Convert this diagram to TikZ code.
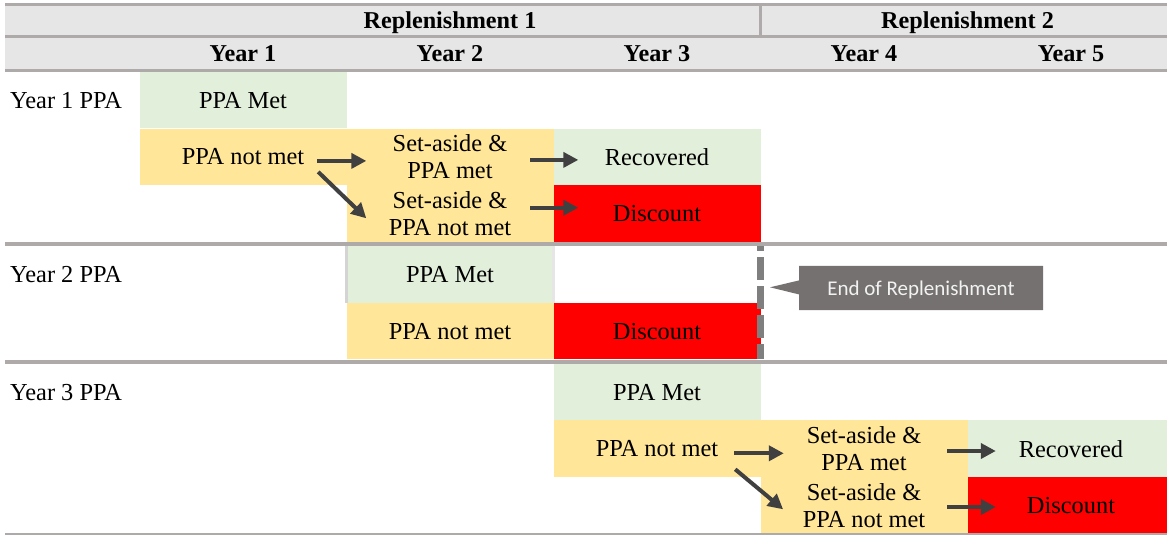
\documentclass[tikz,border=0pt]{standalone}
\usepackage{fontspec}
\setmainfont{Liberation Serif}
\setsansfont{Carlito}
\usepackage{tikz}
\usetikzlibrary{arrows.meta,shapes.callouts}
\definecolor{metgreen}{HTML}{E2EFDA}
\definecolor{notyellow}{HTML}{FFE699}
\definecolor{lossred}{HTML}{FF0000}
\definecolor{headgray}{HTML}{E7E6E6}
\definecolor{rulegray}{HTML}{AEAAAA}
\definecolor{arrowgray}{HTML}{404040}
\definecolor{dashgray}{HTML}{7F7F7F}
\definecolor{notegray}{HTML}{767171}
\tikzset{
    every node/.style={inner sep=0pt, text depth=-5.4pt,
        font=\rmfamily\fontsize{24.4}{27}\selectfont}
}
\tikzset{
    cell/.style={rectangle, minimum width=207pt, minimum height=56.7pt, align=center},
    met/.style={cell, fill=metgreen},
    notmet/.style={cell, fill=notyellow},
    lost/.style={cell, fill=lossred},
    head/.style={font=\rmfamily\fontsize{24.2}{27}\selectfont\bfseries, text depth=-5pt}
}
\tikzset{
    flow/.style={draw=arrowgray, fill=arrowgray, line width=4pt,
        -{Triangle[length=15pt,width=15pt]}}
}
\tikzset{
    rule/.style={draw=rulegray, line width=3.5pt}
}

\begin{document}
\begin{tikzpicture}[x=1pt, y=-1pt]
  \useasboundingbox (0,0) rectangle (1167,535);
  \fill[headgray] (5,5) rectangle (1167,70);

  \node (r1) [head] at (450,20.5) {Replenishment 1};
  \node (r2) [head] at (967.5,20.5) {Replenishment 2};
  \node (c1) [head] at (243,53.7) {Year 1};
  \node (c2) [head] at (450,53.7) {Year 2};
  \node (c3) [head] at (657,53.7) {Year 3};
  \node (c4) [head] at (864,53.7) {Year 4};
  \node (c5) [head] at (1071,53.7) {Year 5};

  \node (l1) [anchor=west] at (10,100) {Year 1 PPA};
  \node (m1) [met] at (243,100) {PPA Met};
  \node (n1) [notmet] at (243,156.9) {PPA not met};
  \node (s1) [notmet] at (450,156.9) {Set-aside \&\\PPA met};
  \node (t1) [notmet] at (450,213.7) {Set-aside \&\\PPA not met};
  \node (v1) [met] at (657,156.9) {Recovered};
  \node (d1) [lost] at (657,213.7) {Discount};

  \node (l2) [anchor=west] at (10,274.3) {Year 2 PPA};
  \node (m2) [met] at (450,274.3) {PPA Met};
  \node (n2) [notmet] at (450,331) {PPA not met};
  \node (d2) [lost] at (657,331) {Discount};

  \node (l3) [anchor=west] at (10,392) {Year 3 PPA};
  \node (m3) [met] at (657,392) {PPA Met};
  \node (n3) [notmet] at (657,448.7) {PPA not met};
  \node (s3) [notmet] at (864,448.7) {Set-aside \&\\PPA met};
  \node (t3) [notmet] at (864,505.3) {Set-aside \&\\PPA not met};
  \node (v3) [met] at (1071,448.7) {Recovered};
  \node (d3) [lost] at (1071,505.3) {Discount};

  \draw[headgray!80!black!60, line width=2.5pt] (m2.north west) -- (m2.south west);
  \draw[headgray, line width=2.5pt] (m2.north east) -- (m2.south east);

  \draw[rule] (5,4.7) -- (1167,4.7);
  \draw[rule] (5,36.7) -- (1167,36.7);
  \draw[rule] (5,70.7) -- (1167,70.7);
  \draw[rule] (760.5,6) -- (760.5,35);
  \draw[rule] (5,244) -- (1167,244);
  \draw[rule] (5,362) -- (1167,362);
  \draw[rule, line width=2pt] (5,533.5) -- (1167,533.5);

  \draw[flow] ([xshift=-29.5pt,yshift=-4pt]n1.east) -- ([xshift=20pt,yshift=-4pt]s1.west);
  \draw[flow] ([xshift=-28.5pt,yshift=-15pt]n1.east) -- ([xshift=20pt,yshift=-4.6pt]t1.west);
  \draw[flow] ([xshift=-23.5pt,yshift=-3pt]s1.east) -- ([xshift=25pt,yshift=-3pt]v1.west);
  \draw[flow] ([xshift=-23.5pt,yshift=6pt]t1.east) -- ([xshift=25pt,yshift=6pt]d1.west);

  \draw[flow] ([xshift=-26.5pt,yshift=-4.6pt]n3.east) -- ([xshift=23.5pt,yshift=-4.6pt]s3.west);
  \draw[flow] ([xshift=-25.5pt,yshift=-20.6pt]n3.east) -- ([xshift=22.8pt,yshift=-4pt]t3.west);
  \draw[flow] ([xshift=-20.5pt,yshift=-2.3pt]s3.east) -- ([xshift=28.5pt,yshift=-2.3pt]v3.west);
  \draw[flow] ([xshift=-20.5pt,yshift=-1.7pt]t3.east) -- ([xshift=28.5pt,yshift=-1.7pt]d3.west);

  \coordinate (e1) at (760.5,246);
  \coordinate (e2) at (760.5,359.3);
  \draw[dashgray, line width=7pt, dash pattern=on 22.5pt off 6.5pt, dash phase=17.8pt] (e1) -- (e2);

  \coordinate (tip) at (770,287.3);
  \node (note) [rectangle callout, fill=notegray, text=white!95!black,
    minimum width=244pt, minimum height=44.3pt,
    callout absolute pointer={(tip)}, callout pointer width=14pt,
    font=\sffamily\fontsize{21}{24}\selectfont, text depth=-4.6pt]
    at (921,287.9) {End of Replenishment};
\end{tikzpicture}
\end{document}
